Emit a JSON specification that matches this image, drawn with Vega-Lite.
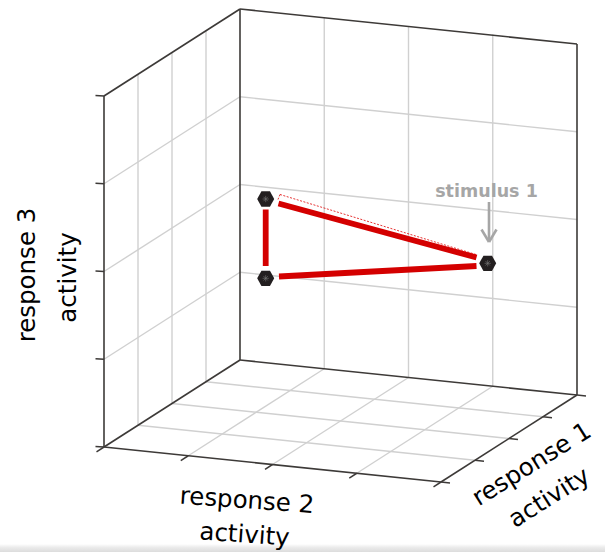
{
  "$schema": "https://vega.github.io/schema/vega-lite/v6.json",
  "width": 605,
  "height": 552,
  "autosize": {"type": "fit", "contains": "padding"},
  "padding": 0,
  "background": "white",
  "config": {"view": {"stroke": null}},
  "datasets": {
    "grid": [
      {"x": 324.25, "y": 17.5, "x2": 324.25, "y2": 368.75},
      {"x": 408.5, "y": 26, "x2": 408.5, "y2": 377.5},
      {"x": 492.75, "y": 34.5, "x2": 492.75, "y2": 386.25},
      {"x": 240, "y": 96.75, "x2": 577, "y2": 131.75},
      {"x": 240, "y": 184.5, "x2": 577, "y2": 219.5},
      {"x": 240, "y": 272.25, "x2": 577, "y2": 307.25},
      {"x": 138, "y": 74.25, "x2": 138, "y2": 425.25},
      {"x": 172, "y": 52.5, "x2": 172, "y2": 403.5},
      {"x": 206, "y": 30.75, "x2": 206, "y2": 381.75},
      {"x": 240, "y": 96.75, "x2": 104, "y2": 183.75},
      {"x": 240, "y": 184.5, "x2": 104, "y2": 271.5},
      {"x": 240, "y": 272.25, "x2": 104, "y2": 359.25},
      {"x": 206, "y": 381.75, "x2": 543, "y2": 416.75},
      {"x": 172, "y": 403.5, "x2": 509, "y2": 438.5},
      {"x": 138, "y": 425.25, "x2": 475, "y2": 460.25},
      {"x": 324.25, "y": 368.75, "x2": 188.25, "y2": 455.75},
      {"x": 408.5, "y": 377.5, "x2": 272.5, "y2": 464.5},
      {"x": 492.75, "y": 386.25, "x2": 356.75, "y2": 473.25}
    ],
    "frame": [
      {"x": 104, "y": 96, "x2": 240, "y2": 9},
      {"x": 240, "y": 9, "x2": 577, "y2": 44},
      {"x": 240, "y": 9, "x2": 240, "y2": 360},
      {"x": 577, "y": 44, "x2": 577, "y2": 395},
      {"x": 104, "y": 96, "x2": 104, "y2": 447},
      {"x": 240, "y": 360, "x2": 104, "y2": 447},
      {"x": 240, "y": 360, "x2": 577, "y2": 395},
      {"x": 104, "y": 447, "x2": 441, "y2": 482},
      {"x": 577, "y": 395, "x2": 441, "y2": 482}
    ],
    "ticks": [
      {"x": 104, "y": 96, "x2": 95.5, "y2": 95.5},
      {"x": 104, "y": 183.75, "x2": 95.5, "y2": 183.25},
      {"x": 104, "y": 271.5, "x2": 95.5, "y2": 271},
      {"x": 104, "y": 359.25, "x2": 95.5, "y2": 358.75},
      {"x": 104, "y": 447, "x2": 95.5, "y2": 446.5},
      {"x": 104, "y": 447, "x2": 96.5, "y2": 451.8},
      {"x": 188.25, "y": 455.75, "x2": 180.75, "y2": 460.55},
      {"x": 272.5, "y": 464.5, "x2": 265, "y2": 469.3},
      {"x": 356.75, "y": 473.25, "x2": 349.25, "y2": 478.05},
      {"x": 441, "y": 482, "x2": 433.5, "y2": 486.8},
      {"x": 577, "y": 395, "x2": 586, "y2": 396},
      {"x": 543, "y": 416.75, "x2": 552, "y2": 417.75},
      {"x": 509, "y": 438.5, "x2": 518, "y2": 439.5},
      {"x": 475, "y": 460.25, "x2": 484, "y2": 461.25},
      {"x": 441, "y": 482, "x2": 450, "y2": 483}
    ]
  },
  "layer": [
    {
      "data": {"values": [{"x": 0, "y": 544, "x2": 605, "y2": 552}]},
      "mark": {"type": "rect", "color": {"gradient": "linear", "x1": 0, "y1": 0, "x2": 0, "y2": 1, "stops": [{"offset": 0, "color": "#ffffff"}, {"offset": 0.4, "color": "#ececec"}, {"offset": 1, "color": "#dcdcdc"}]}},
      "encoding": {
        "x": {"field": "x", "type": "quantitative", "scale": {"domain": [0, 605], "nice": false, "zero": false}, "axis": null},
        "y": {"field": "y", "type": "quantitative", "scale": {"domain": [0, 552], "nice": false, "zero": false, "reverse": true}, "axis": null},
        "x2": {"field": "x2"},
        "y2": {"field": "y2"}
      }
    },
    {
      "data": {"name": "grid"},
      "mark": {"type": "rule", "color": "#d0d0d0", "strokeWidth": 1.4},
      "encoding": {
        "x": {"field": "x", "type": "quantitative", "scale": {"domain": [0, 605], "nice": false, "zero": false}, "axis": null},
        "y": {"field": "y", "type": "quantitative", "scale": {"domain": [0, 552], "nice": false, "zero": false, "reverse": true}, "axis": null},
        "x2": {"field": "x2"},
        "y2": {"field": "y2"}
      }
    },
    {
      "data": {"name": "frame"},
      "mark": {"type": "rule", "color": "#3d3a38", "strokeWidth": 1.6},
      "encoding": {
        "x": {"field": "x", "type": "quantitative", "axis": null},
        "y": {"field": "y", "type": "quantitative", "axis": null},
        "x2": {"field": "x2"},
        "y2": {"field": "y2"}
      }
    },
    {
      "data": {"name": "ticks"},
      "mark": {"type": "rule", "color": "#3d3a38", "strokeWidth": 1.5},
      "encoding": {
        "x": {"field": "x", "type": "quantitative", "axis": null},
        "y": {"field": "y", "type": "quantitative", "axis": null},
        "x2": {"field": "x2"},
        "y2": {"field": "y2"}
      }
    },
    {
      "data": {"values": [
        {"from": "A", "to": "B", "x": 265.7, "y": 209.5, "x2": 265.7, "y2": 266},
        {"from": "A", "to": "C", "x": 278.5, "y": 203.5, "x2": 476.5, "y2": 257.5},
        {"from": "B", "to": "C", "x": 279, "y": 276.5, "x2": 476.5, "y2": 266}
      ]},
      "mark": {"type": "rule", "color": "#d40000", "strokeWidth": 5.8},
      "encoding": {
        "x": {"field": "x", "type": "quantitative", "axis": null},
        "y": {"field": "y", "type": "quantitative", "axis": null},
        "x2": {"field": "x2"},
        "y2": {"field": "y2"}
      }
    },
    {
      "data": {"values": [
        {"x": 280, "y": 194.5, "x2": 476, "y2": 254.5},
        {"x": 280, "y": 194.5, "x2": 278, "y2": 199.5}
      ]},
      "mark": {"type": "rule", "color": "#e00000", "strokeWidth": 0.8, "strokeDash": [2, 1.5]},
      "encoding": {
        "x": {"field": "x", "type": "quantitative", "axis": null},
        "y": {"field": "y", "type": "quantitative", "axis": null},
        "x2": {"field": "x2"},
        "y2": {"field": "y2"}
      }
    },
    {
      "data": {"values": [
        {"stimulus": "A", "x": 265.7, "y": 199},
        {"stimulus": "B", "x": 265.7, "y": 278.3},
        {"stimulus": "C", "x": 487.7, "y": 263.3}
      ]},
      "layer": [
        {
          "mark": {"type": "point", "shape": "M-1,0L-0.5,-0.9L0.5,-0.9L1,0L0.5,0.9L-0.5,0.9Z", "filled": true, "color": "#231f20", "opacity": 1, "size": 290},
          "encoding": {
            "x": {"field": "x", "type": "quantitative", "axis": null},
            "y": {"field": "y", "type": "quantitative", "axis": null}
          }
        },
        {
          "mark": {"type": "point", "shape": "M-1,0L1,0M0,-1L0,1M-0.7,-0.7L0.7,0.7M-0.7,0.7L0.7,-0.7", "filled": false, "stroke": "#777777", "strokeWidth": 0.6, "opacity": 1, "size": 40},
          "encoding": {
            "x": {"field": "x", "type": "quantitative", "axis": null},
            "y": {"field": "y", "type": "quantitative", "axis": null}
          }
        }
      ]
    },
    {
      "data": {"values": [
        {"x": 489, "y": 202, "x2": 489, "y2": 240},
        {"x": 481.5, "y": 229.5, "x2": 489, "y2": 242},
        {"x": 496.5, "y": 229.5, "x2": 489, "y2": 242}
      ]},
      "mark": {"type": "rule", "color": "#a6a6a6", "strokeWidth": 2.6},
      "encoding": {
        "x": {"field": "x", "type": "quantitative", "axis": null},
        "y": {"field": "y", "type": "quantitative", "axis": null},
        "x2": {"field": "x2"},
        "y2": {"field": "y2"}
      }
    },
    {
      "data": {"values": [{"x": 486.5, "y": 196.5, "label": "stimulus 1"}]},
      "mark": {"type": "text", "font": "DejaVu Sans", "fontWeight": "bold", "fontSize": 17.5, "color": "#a6a6a6", "align": "center", "baseline": "alphabetic"},
      "encoding": {
        "x": {"field": "x", "type": "quantitative", "axis": null},
        "y": {"field": "y", "type": "quantitative", "axis": null},
        "text": {"field": "label"}
      }
    },
    {
      "data": {"values": [
        {"x": 35, "y": 275, "label": "response 3"},
        {"x": 76, "y": 277.5, "label": "activity"}
      ]},
      "mark": {"type": "text", "font": "DejaVu Sans", "fontSize": 24.5, "color": "#000000", "align": "center", "baseline": "alphabetic", "angle": 270},
      "encoding": {
        "x": {"field": "x", "type": "quantitative", "axis": null},
        "y": {"field": "y", "type": "quantitative", "axis": null},
        "text": {"field": "label"}
      }
    },
    {
      "data": {"values": [
        {"x": 246.5, "y": 508.3, "label": "response 2"},
        {"x": 244, "y": 542.5, "label": "activity"}
      ]},
      "mark": {"type": "text", "font": "DejaVu Sans", "fontSize": 24.5, "color": "#000000", "align": "center", "baseline": "alphabetic", "angle": 4},
      "encoding": {
        "x": {"field": "x", "type": "quantitative", "axis": null},
        "y": {"field": "y", "type": "quantitative", "axis": null},
        "text": {"field": "label"}
      }
    },
    {
      "data": {"values": [
        {"x": 535.8, "y": 470.8, "label": "response 1"},
        {"x": 553.3, "y": 504.2, "label": "activity"}
      ]},
      "mark": {"type": "text", "font": "DejaVu Sans", "fontSize": 24.5, "color": "#000000", "align": "center", "baseline": "alphabetic", "angle": 328},
      "encoding": {
        "x": {"field": "x", "type": "quantitative", "axis": null},
        "y": {"field": "y", "type": "quantitative", "axis": null},
        "text": {"field": "label"}
      }
    }
  ]
}
